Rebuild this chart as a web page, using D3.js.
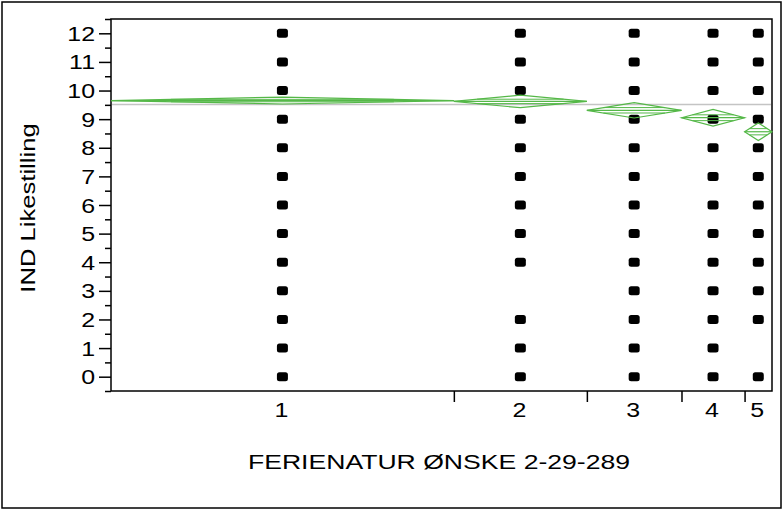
<!DOCTYPE html>
<html>
<head>
<meta charset="utf-8">
<script src="https://cdn.jsdelivr.net/npm/d3@7"></script>
<style>
  body { margin: 0; background: #fff; }
  svg { display: block; font-family: "Liberation Sans", Arial, sans-serif; }
</style>
</head>
<body>
<div id="chart"></div>
<script>
// groups and their sizes (x axis widths are proportional to n)
const levels = ["1", "2", "3", "4", "5"];
const counts = [250, 97, 69, 46, 20];
// group means and half width of 95% CI
const means = [9.65, 9.62, 9.31, 9.05, 8.56];
const ciHalf = [0.12, 0.22, 0.27, 0.29, 0.31];
const grandMean = 9.51;
// observed values in each group
const obs1 = [0, 1, 2, 3, 4, 5, 6, 7, 8, 9, 10, 11, 12];
const obs2 = [0, 1, 2, 4, 5, 6, 7, 8, 9, 10, 11, 12];
const obs3 = [0, 1, 2, 3, 4, 5, 6, 7, 8, 9, 10, 11, 12];
const obs4 = [0, 1, 2, 3, 4, 5, 6, 7, 8, 9, 10, 11, 12];
const obs5 = [0, 2, 3, 4, 5, 6, 7, 8, 9, 10, 11, 12];
const observed = [obs1, obs2, obs3, obs4, obs5];
const yTicks = d3.range(0, 13);

const width = 784, height = 511;
const pLeft = 111, pRight = 772, pTop = 19, pBottom = 391;
const sx = 1.28; // text in the original is wider than it is tall

const svg = d3.select("#chart").append("svg")
  .attr("width", width)
  .attr("height", height);

// outer frame
svg.append("rect")
  .attr("x", 2).attr("y", 2)
  .attr("width", 779).attr("height", 506)
  .attr("fill", "none")
  .attr("stroke", "#000")
  .attr("stroke-width", 1.5);

const cum = [0];
counts.forEach(c => cum.push(cum[cum.length - 1] + c));

const x = d3.scaleLinear().domain([0, d3.sum(counts)]).range([pLeft, pRight]);
const y = d3.scaleLinear().domain([-0.5, 12.5]).range([pBottom, pTop]);

const groups = levels.map((l, i) => ({
  level: l,
  x0: x(cum[i]),
  x1: x(cum[i + 1]),
  xc: x((cum[i] + cum[i + 1]) / 2),
  mean: means[i],
  h: ciHalf[i],
  values: observed[i]
}));

// y axis: minor ticks at halves, major at integers
svg.append("g")
  .attr("transform", `translate(${pLeft},0)`)
  .call(d3.axisLeft(y).tickValues(d3.range(-0.5, 13, 1)).tickSize(6).tickFormat(""))
  .call(g => g.select(".domain").remove())
  .selectAll("line").attr("stroke", "#000").attr("stroke-width", 1.5);

svg.append("g")
  .attr("transform", `translate(${pLeft},0)`)
  .call(d3.axisLeft(y).tickValues(yTicks).tickSize(12).tickPadding(4).tickFormat(d3.format("d")))
  .call(g => g.select(".domain").remove())
  .call(g => g.selectAll("line").attr("stroke", "#000").attr("stroke-width", 1.5))
  .call(g => g.selectAll("text")
    .attr("font-size", 19.5)
    .attr("fill", "#000")
    .attr("font-family", "Liberation Sans, Arial, sans-serif")
    .attr("x", -16 / sx)
    .attr("dy", "0.36em")
    .attr("transform", `scale(${sx},1)`));

// x axis: ticks at group boundaries, labels at group centres
svg.append("g")
  .attr("transform", `translate(0,${pBottom})`)
  .call(d3.axisBottom(x).tickValues(cum.slice(1, -1)).tickSize(11).tickFormat(""))
  .call(g => g.select(".domain").remove())
  .selectAll("line").attr("stroke", "#000").attr("stroke-width", 1.5);

svg.append("g").selectAll("text")
  .data(groups)
  .join("text")
  .attr("transform", d => `translate(${d.xc - 1},417) scale(${sx},1)`)
  .attr("text-anchor", "middle")
  .attr("font-size", 19.5)
  .text(d => d.level);

// plot frame
svg.append("rect")
  .attr("x", pLeft).attr("y", pTop)
  .attr("width", pRight - pLeft).attr("height", pBottom - pTop)
  .attr("fill", "none")
  .attr("stroke", "#000")
  .attr("stroke-width", 1.5);

const plot = svg.append("g");

// grand mean
plot.append("line")
  .attr("x1", pLeft + 1).attr("x2", pRight - 1)
  .attr("y1", y(grandMean)).attr("y2", y(grandMean))
  .attr("stroke", "#c4c4c4")
  .attr("stroke-width", 1.5);

// points
groups.forEach(g => {
  plot.append("g").selectAll("rect")
    .data(g.values)
    .join("rect")
    .attr("x", g.xc - 5.5)
    .attr("y", d => y(d) - 4.5)
    .attr("width", 11).attr("height", 9)
    .attr("rx", 2.5)
    .attr("fill", "#000");
});

// means diamonds
const green = "#55b848";
groups.forEach(g => {
  const ym = y(g.mean), yt = y(g.mean + g.h), yb = y(g.mean - g.h);
  plot.append("path")
    .attr("d", `M${g.x0},${ym}L${g.xc},${yt}L${g.x1},${ym}L${g.xc},${yb}Z`)
    .attr("fill", "none")
    .attr("stroke", green)
    .attr("stroke-width", 1.2);
  plot.append("line")
    .attr("x1", g.x0).attr("x2", g.x1)
    .attr("y1", ym).attr("y2", ym)
    .attr("stroke", green).attr("stroke-width", 1.2);
  const f = 0.35, half = (g.x1 - g.x0) / 2 * (1 - f);
  [g.mean + g.h * f, g.mean - g.h * f].forEach(v => {
    plot.append("line")
      .attr("x1", g.xc - half).attr("x2", g.xc + half)
      .attr("y1", y(v)).attr("y2", y(v))
      .attr("stroke", green).attr("stroke-width", 1);
  });
});

// axis titles
svg.append("text")
  .attr("transform", `translate(35,208) rotate(-90) scale(${sx},1)`)
  .attr("text-anchor", "middle")
  .attr("font-size", 20)
  .text("IND Likestilling");

svg.append("text")
  .attr("transform", `translate(439,469) scale(${sx + 0.05},1)`)
  .attr("text-anchor", "middle")
  .attr("font-size", 20)
  .text("FERIENATUR ØNSKE 2-29-289");
</script>
</body>
</html>
